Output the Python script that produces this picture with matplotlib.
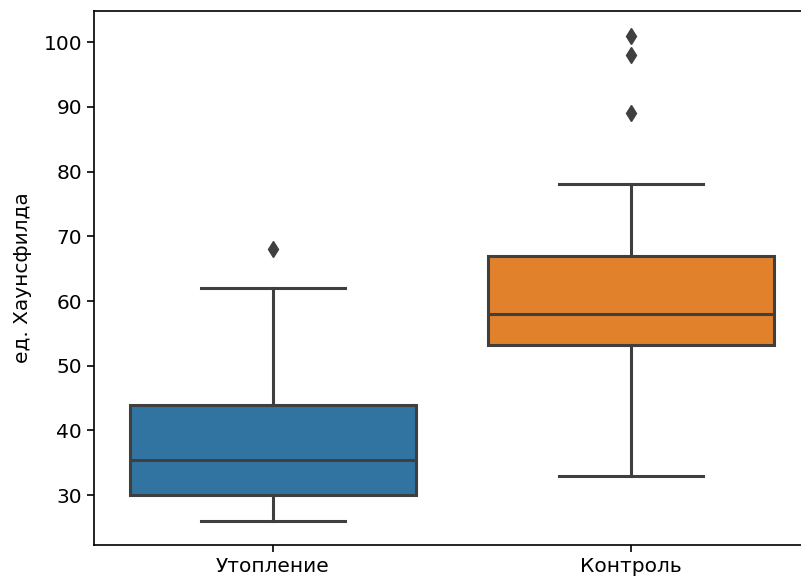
import matplotlib
matplotlib.use("Agg")
import matplotlib.pyplot as plt

groups = ["Утопление", "Контроль"]
whislo = [26, 33]
q1 = [30, 53.2]
med = [35.5, 58]
q3 = [44, 67]
whishi = [62, 78]
fliers = [[68], [89, 98, 101]]
colors = ["#3274a1", "#e1812c"]

edge = "#3f3f3f"

stats = []
for i, name in enumerate(groups):
    stats.append(dict(label=name, whislo=whislo[i], q1=q1[i], med=med[i],
                      q3=q3[i], whishi=whishi[i], fliers=fliers[i]))

fig = plt.figure(figsize=(8.01, 5.8), dpi=100)
ax = fig.add_axes([0.1174, 0.0603, 0.894, 0.9207])

bp = ax.bxp(stats, positions=[0, 1], widths=0.8, patch_artist=True,
            boxprops=dict(edgecolor=edge, linewidth=2.2),
            medianprops=dict(color=edge, linewidth=2.2),
            whiskerprops=dict(color=edge, linewidth=2.2),
            capprops=dict(color=edge, linewidth=2.2),
            capwidths=0.4,
            flierprops=dict(marker="d", markerfacecolor=edge, markeredgecolor=edge,
                            markersize=8))
for patch, c in zip(bp["boxes"], colors):
    patch.set_facecolor(c)

ax.set_xlim(-0.5, 1.5)
ax.set_ylim(22.3, 104.8)
ax.set_yticks([30, 40, 50, 60, 70, 80, 90, 100])
ax.set_xticks([0, 1])
ax.set_xticklabels(groups)
ax.tick_params(labelsize=14.5, length=5, width=1.2)
for s in ax.spines.values():
    s.set_linewidth(1.2)
ax.set_ylabel("ед. Хаунсфилда", fontsize=14.5, labelpad=8)

fig.savefig("out.png", dpi=100)
